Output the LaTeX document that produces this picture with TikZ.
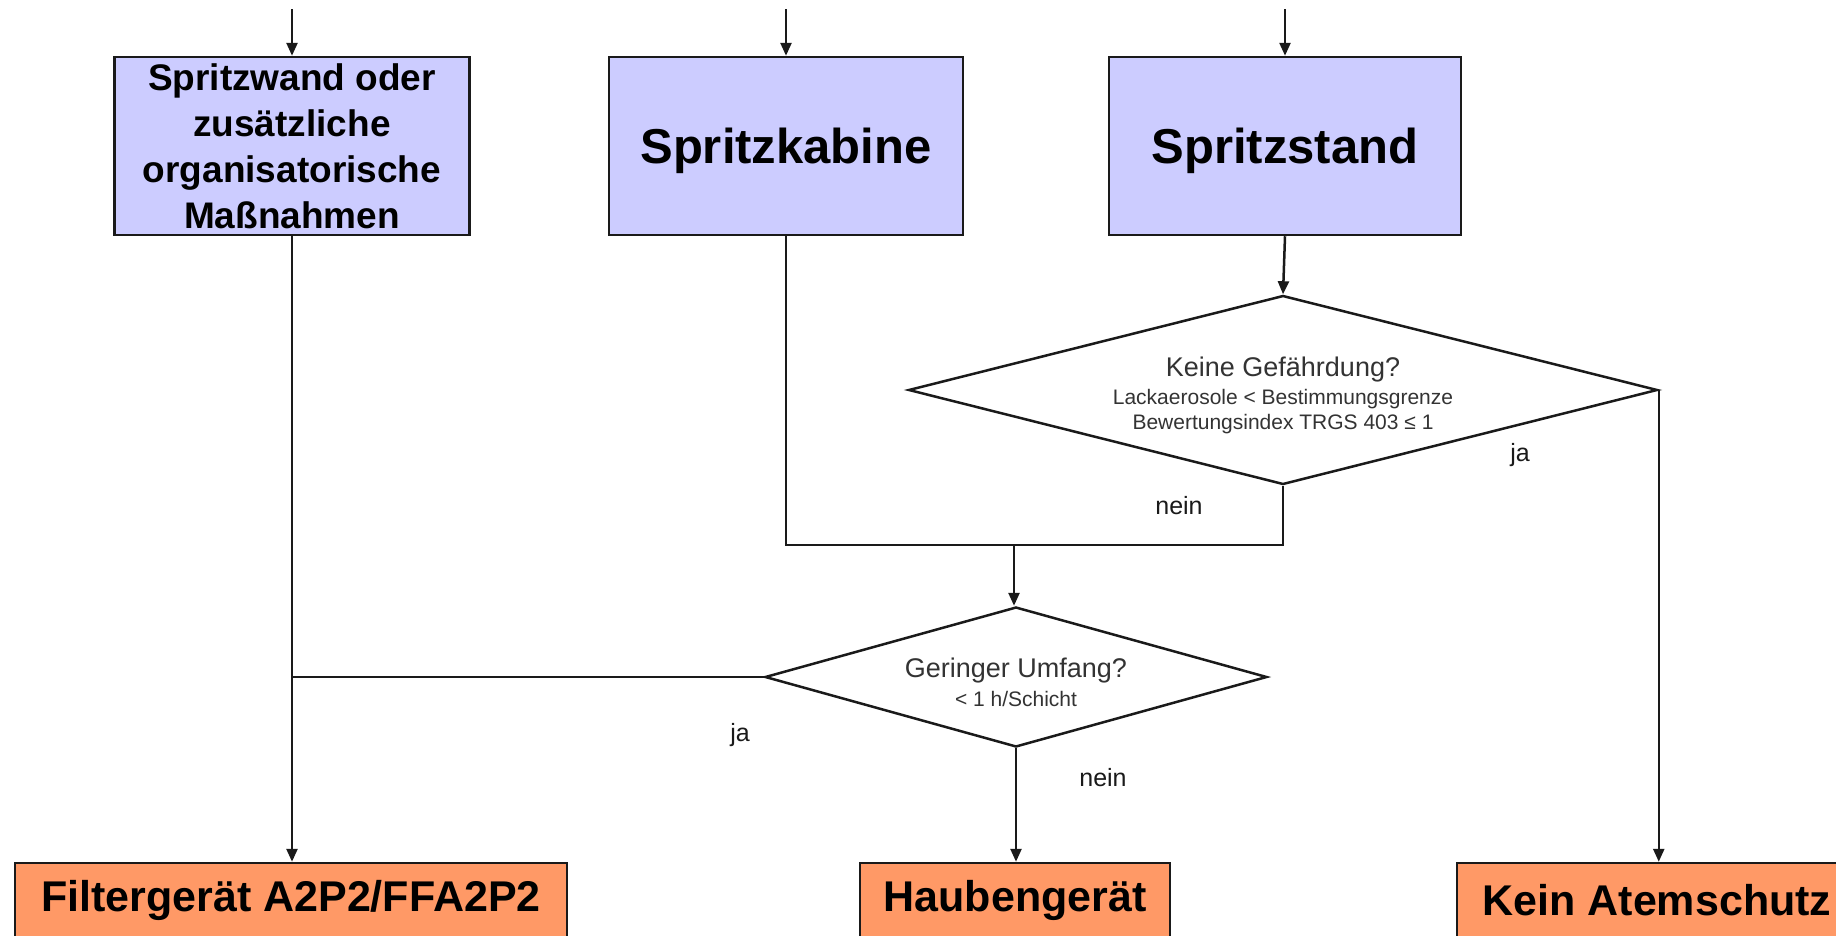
\documentclass[tikz,border=0pt]{standalone}
\usepackage{fontspec}
\setmainfont{Liberation Sans}
\usetikzlibrary{shapes.geometric,arrows.meta}
\definecolor{lav}{HTML}{CCCCFF}
\definecolor{org}{HTML}{FF9966}
\definecolor{txtgray}{HTML}{333333}
\definecolor{linec}{HTML}{1A1A1A}
\begin{document}
\begin{tikzpicture}[x=1pt,y=-1pt,
  conn/.style={draw=linec, line width=2.5pt},
  arr/.style={conn, -{Triangle[length=13pt,width=11pt]}},
  bluebox/.style={draw=linec, line width=2.5pt, fill=lav, inner sep=0pt,
    minimum height=178pt, align=center},
  orgbox/.style={draw=linec, line width=2.5pt, fill=org, inner sep=0pt,
    minimum height=74pt, align=center, font=\fontsize{43}{50}\selectfont\bfseries},
  decision/.style={diamond, draw=linec, line width=2.5pt, fill=white, inner sep=0pt,
    align=center, text=txtgray},
  lbl/.style={inner sep=0pt, font=\fontsize{25}{30}\selectfont, text=linec}
]
\useasboundingbox (0,0) rectangle (1836,935);
\clip (0,0) rectangle (1836,935);
\fill[white] (0,0) rectangle (1836,935);

% top boxes
\node[bluebox, minimum width=355pt, font=\fontsize{37}{46}\selectfont\bfseries] (b1) at (292,146)
  {Spritzwand oder\\zusätzliche\\organisatorische\\Maßnahmen};
\node[bluebox, minimum width=354pt, text depth=0pt, font=\fontsize{49}{56}\selectfont\bfseries] (b2) at (786,146) {Spritzkabine};
\node[bluebox, minimum width=352pt, text depth=0pt, font=\fontsize{49}{56}\selectfont\bfseries] (b3) at (1285,146) {Spritzstand};

% incoming arrows
\coordinate (t1) at (292,9);
\coordinate (t2) at (786,9);
\coordinate (t3) at (1285,9);
\draw[arr] (t1) -- (b1.north);
\draw[arr] (t2) -- (b2.north);
\draw[arr] (t3) -- (b3.north);

% decisions
\node[decision, minimum width=749pt, minimum height=189pt, aspect=3.96] (d1) at (1283,390)
  {\fontsize{27}{30}\selectfont\rule{0pt}{30pt}Keine Gefährdung?\\[6pt]
   \fontsize{21}{25}\selectfont Lackaerosole < Bestimmungsgrenze\\[4pt]
   \fontsize{21}{25}\selectfont Bewertungsindex TRGS 403 ≤ 1};
\node[decision, minimum width=502pt, minimum height=140pt, aspect=3.6] (d2) at (1016,677)
  {\fontsize{27}{30}\selectfont\rule{0pt}{30pt}Geringer Umfang?\\[7pt]
   \fontsize{21}{25}\selectfont < 1 h/Schicht};

% result boxes
\node[orgbox, minimum width=552pt] (filt) at (291,900) {Filtergerät A2P2/FFA2P2};
\node[orgbox, minimum width=310pt] (haub) at (1015,900) {Haubengerät};
\node[orgbox, minimum width=400pt] (kein) at (1657,900) {Kein Atemschutz};

% connectors
\coordinate (jm) at (1014,545);
\draw[arr] (b3.south) -- (d1.north);
\draw[conn] (b2.south) -- (b2.south |- jm) -- (d1.south |- jm) -- (d1.south);
\draw[arr] (jm) -- (jm |- d2.north);
\draw[arr] (b1.south) -- (b1.south |- filt.north);
\draw[conn] (d2.west) -- (b1.south |- d2.west);
\draw[arr] (d2.south) -- (d2.south |- haub.north);
\draw[arr] (d1.east) -- (d1.east |- kein.north);

% labels
\node[lbl] (ja1) at (1520,455) {ja};
\node[lbl] (nein1) at (1179,506) {nein};
\node[lbl] (ja2) at (740,735) {ja};
\node[lbl] (nein2) at (1103,778) {nein};
\end{tikzpicture}
\end{document}
